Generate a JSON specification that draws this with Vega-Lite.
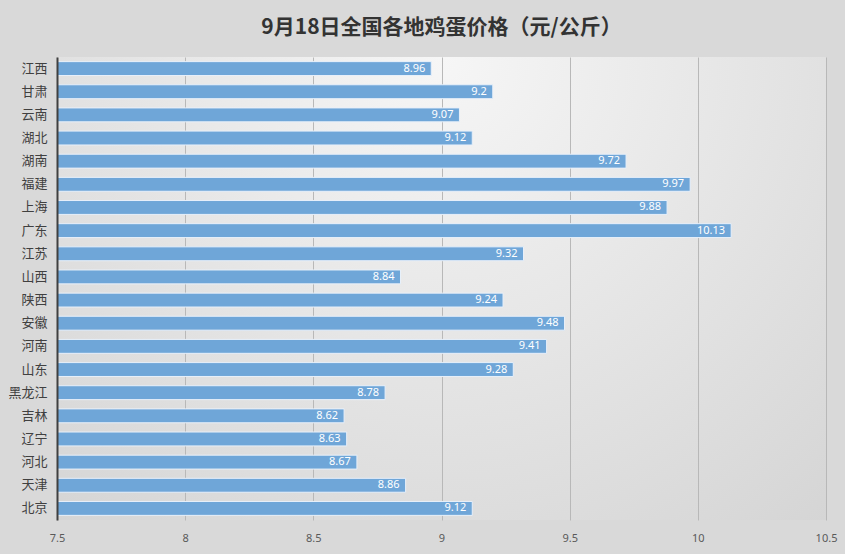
{
  "$schema": "https://vega.github.io/schema/vega-lite/v6.json",
  "width": 769,
  "height": 463,
  "autosize": "none",
  "padding": {"left": 57, "top": 57, "right": 19, "bottom": 34},
  "background": "#d9d9d9",
  "title": {
    "text": "9月18日全国各地鸡蛋价格（元/公斤）",
    "font": "Noto Sans CJK SC",
    "fontSize": 21,
    "fontWeight": "bold",
    "color": "#333333",
    "anchor": "middle",
    "offset": 19
  },
  "config": {
    "view": {"stroke": null, "fill": {"gradient": "radial", "x1": 0.5, "y1": 0.2, "x2": 0.5, "y2": 0.2, "r1": 0, "r2": 0.9, "stops": [{"offset": 0, "color": "#f6f6f6"}, {"offset": 1, "color": "#d0d0d0"}]}},
    "font": "Noto Sans CJK SC"
  },
  "data": {
    "values": [
      {"province": "江西", "price": 8.96},
      {"province": "甘肃", "price": 9.2},
      {"province": "云南", "price": 9.07},
      {"province": "湖北", "price": 9.12},
      {"province": "湖南", "price": 9.72},
      {"province": "福建", "price": 9.97},
      {"province": "上海", "price": 9.88},
      {"province": "广东", "price": 10.13},
      {"province": "江苏", "price": 9.32},
      {"province": "山西", "price": 8.84},
      {"province": "陕西", "price": 9.24},
      {"province": "安徽", "price": 9.48},
      {"province": "河南", "price": 9.41},
      {"province": "山东", "price": 9.28},
      {"province": "黑龙江", "price": 8.78},
      {"province": "吉林", "price": 8.62},
      {"province": "辽宁", "price": 8.63},
      {"province": "河北", "price": 8.67},
      {"province": "天津", "price": 8.86},
      {"province": "北京", "price": 9.12}
    ]
  },
  "encoding": {
    "y": {
      "field": "province",
      "type": "nominal",
      "sort": null,
      "scale": {"paddingInner": 0.4, "paddingOuter": 0.2},
      "axis": {
        "title": null,
        "domain": true,
        "domainColor": "#404040",
        "domainWidth": 2,
        "ticks": false,
        "labelFont": "Noto Sans CJK SC",
        "labelFontSize": 13,
        "labelColor": "#404040",
        "labelPadding": 10,
        "zindex": 1
      }
    },
    "x": {
      "field": "price",
      "type": "quantitative",
      "scale": {"domain": [7.5, 10.5], "zero": false, "nice": false},
      "axis": {
        "title": null,
        "values": [7.5, 8, 8.5, 9, 9.5, 10, 10.5],
        "format": "~g",
        "domain": false,
        "ticks": false,
        "grid": true,
        "gridColor": "#b8b8b8",
        "gridWidth": 1,
        "labelFont": "Noto Sans",
        "labelFontSize": 11,
        "labelColor": "#595959",
        "labelPadding": 12,
        "labelFlush": false
      }
    }
  },
  "layer": [
    {
      "mark": {"type": "bar", "color": "#6fa6d8", "stroke": "#e8f0fa", "strokeWidth": 1, "clip": true}
    },
    {
      "mark": {"type": "text", "align": "right", "dx": -6, "color": "white", "font": "Noto Sans", "fontSize": 11, "baseline": "middle"},
      "encoding": {"text": {"field": "price", "type": "quantitative"}}
    }
  ]
}
